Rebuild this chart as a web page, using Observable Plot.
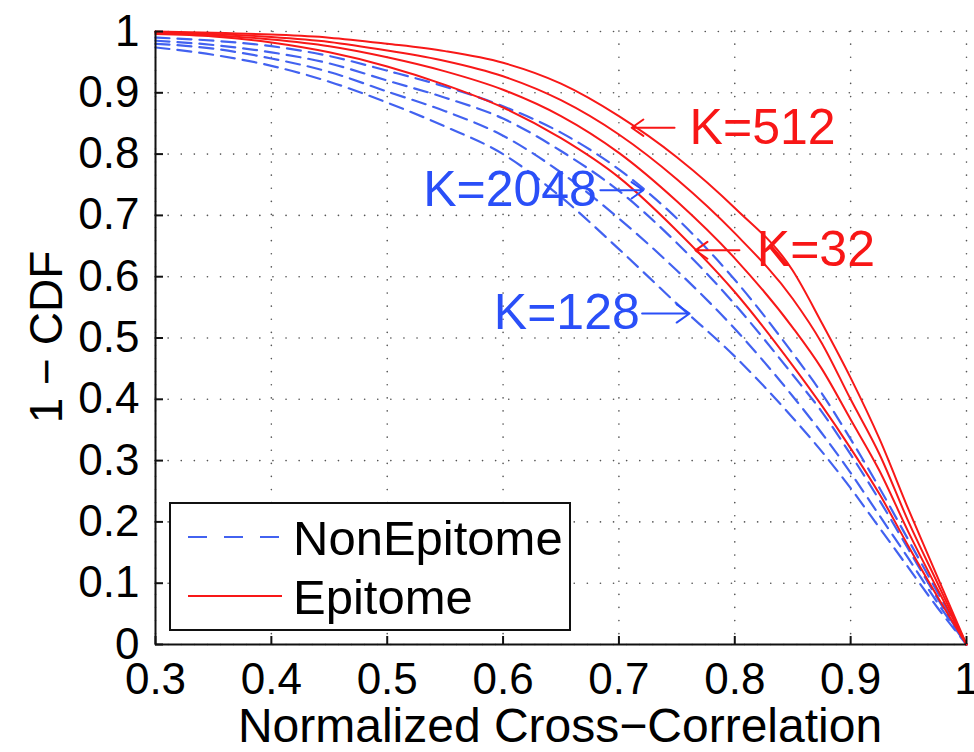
<!DOCTYPE html>
<html><head><meta charset="utf-8">
<script src="https://cdn.jsdelivr.net/npm/d3@7"></script>
<script src="https://cdn.jsdelivr.net/npm/@observablehq/plot@0.6"></script>
<style>
body{margin:0;background:#fff;}
#chart{width:974px;height:752px;}
svg{font-family:"Liberation Sans",Arial,Helvetica,sans-serif;}
</style></head><body><div id="chart"></div>
<script>
// x positions (normalized cross-correlation)
const xs = [0.3, 0.35, 0.4, 0.45, 0.5, 0.55, 0.6, 0.65, 0.7, 0.75, 0.8, 0.85, 0.875, 0.9, 0.925, 0.95, 0.975, 1.0];
// Epitome (solid red) 1-CDF values
const epiK32   = [0.996, 0.992, 0.982, 0.966, 0.943, 0.913, 0.876, 0.826, 0.762, 0.675, 0.575, 0.455, 0.39, 0.32, 0.245, 0.16, 0.078, 0];
const epiK128  = [0.998, 0.994, 0.987, 0.976, 0.958, 0.935, 0.905, 0.862, 0.802, 0.723, 0.63, 0.517, 0.45, 0.367, 0.283, 0.183, 0.09, 0];
const epiK2048 = [0.999, 0.996, 0.991, 0.983, 0.969, 0.952, 0.927, 0.888, 0.832, 0.759, 0.671, 0.564, 0.492, 0.4, 0.31, 0.2, 0.1, 0];
const epiK512  = [1.0, 0.998, 0.995, 0.99, 0.98, 0.968, 0.949, 0.915, 0.862, 0.795, 0.712, 0.61, 0.525, 0.435, 0.335, 0.22, 0.11, 0];
// NonEpitome (dashed blue) 1-CDF values
const nonK128  = [0.974, 0.962, 0.944, 0.918, 0.884, 0.845, 0.8, 0.73, 0.645, 0.556, 0.47, 0.37, 0.315, 0.255, 0.19, 0.125, 0.06, 0];
const nonK32   = [0.98, 0.972, 0.956, 0.934, 0.902, 0.87, 0.83, 0.77, 0.695, 0.61, 0.515, 0.405, 0.345, 0.28, 0.21, 0.14, 0.068, 0];
const nonK512  = [0.985, 0.978, 0.966, 0.948, 0.92, 0.892, 0.858, 0.805, 0.74, 0.655, 0.555, 0.44, 0.38, 0.31, 0.235, 0.155, 0.075, 0];
const nonK2048 = [0.99, 0.985, 0.976, 0.96, 0.936, 0.91, 0.878, 0.835, 0.775, 0.695, 0.595, 0.475, 0.41, 0.335, 0.255, 0.17, 0.085, 0];

const xTicks = [0.3, 0.4, 0.5, 0.6, 0.7, 0.8, 0.9, 1];
const yTicks = [0, 0.1, 0.2, 0.3, 0.4, 0.5, 0.6, 0.7, 0.8, 0.9, 1];
const xTickLabels = ["0.3", "0.4", "0.5", "0.6", "0.7", "0.8", "0.9", "1"];
const yTickLabels = ["0", "0.1", "0.2", "0.3", "0.4", "0.5", "0.6", "0.7", "0.8", "0.9", "1"];
const xLabel = "Normalized Cross\u2212Correlation";
const yLabel = "1 \u2212 CDF";

// annotations: label, its anchor point, and the arrow (tail -> tip) beside it
const annText    = ["K=512", "K=2048", "K=32", "K=128"];
const annGroup   = ["Epitome", "NonEpitome", "Epitome", "NonEpitome"];
const annAnchor  = ["start", "end", "start", "end"];
const annX       = [0.761, 0.681, 0.819, 0.718];
const annY       = [0.843, 0.741, 0.643, 0.54];
const arrowTailX = [0.748, 0.684, 0.804, 0.720];
const arrowTipX  = [0.711, 0.721, 0.766, 0.761];

const legendLabels = ["NonEpitome", "Epitome"];

const RED = "#f81818", BLUE = "#4262f0", BLUE_TXT = "#2a4ff8", RED_TXT = "#f81616";

const epiSeries = [["K=32", epiK32], ["K=128", epiK128], ["K=2048", epiK2048], ["K=512", epiK512]];
const nonSeries = [["K=128", nonK128], ["K=32", nonK32], ["K=512", nonK512], ["K=2048", nonK2048]];
const toRows = (list) => list.flatMap(([k, ys]) => ys.map((y, i) => ({k, x: xs[i], y})));
const epiRows = toRows(epiSeries);
const nonRows = toRows(nonSeries);
const annRows = annText.map((t, i) => ({t, x: annX[i], y: annY[i], g: annGroup[i], a: annAnchor[i],
  x1: arrowTailX[i], x2: arrowTipX[i]}));
const colorOf = d => d.g === "Epitome" ? RED_TXT : BLUE_TXT;

const grid = {stroke: "#555", strokeOpacity: 1, strokeWidth: 1.6, strokeDasharray: "0.1,13", strokeLinecap: "round"};

const plot = Plot.plot({
  width: 974, height: 752,
  marginLeft: 155, marginRight: 8, marginTop: 31, marginBottom: 108,
  style: {fontFamily: '"Liberation Sans", Arial, Helvetica, sans-serif', background: "#fff", overflow: "visible"},
  x: {domain: [0.3, 1]},
  y: {domain: [0, 1]},
  marks: [
    Plot.gridX(xTicks, grid),
    Plot.gridY(yTicks, grid),
    Plot.line(nonRows, {x: "x", y: "y", z: "k", stroke: BLUE, strokeWidth: 2.2, strokeDasharray: "14,8", curve: "monotone-x"}),
    Plot.line(epiRows, {x: "x", y: "y", z: "k", stroke: RED, strokeWidth: 2, curve: "monotone-x"}),
    Plot.ruleX([0.3], {stroke: "#111", strokeWidth: 2}),
    Plot.ruleY([0], {stroke: "#111", strokeWidth: 2}),
    Plot.axisX(xTicks, {tickSize: -8, tickPadding: 26, fontSize: 44, strokeWidth: 2, stroke: "#111", fill: "#000",
      tickFormat: (d, i) => xTickLabels[i], label: null}),
    Plot.axisY(yTicks, {tickSize: -8, tickPadding: 24, fontSize: 44, strokeWidth: 2, stroke: "#111", fill: "#000",
      tickFormat: (d, i) => yTickLabels[i], label: null}),
    Plot.arrow(annRows, {x1: "x1", x2: "x2", y1: "y", y2: "y", stroke: colorOf, strokeWidth: 2,
      headLength: 16, headAngle: 70}),
    Plot.text(annRows.filter(d => d.a === "start"), {x: "x", y: "y", text: "t", textAnchor: "start", fontSize: 50, fill: colorOf}),
    Plot.text(annRows.filter(d => d.a === "end"), {x: "x", y: "y", text: "t", textAnchor: "end", fontSize: 50, fill: colorOf})
  ]
});
document.getElementById("chart").appendChild(plot);

// axis titles & legend (layout)
const svg = d3.select(plot);
svg.append("text").attr("x", 560).attr("y", 742).attr("text-anchor", "middle")
  .attr("font-size", 48).attr("fill", "#000").text(xLabel);
svg.append("text").attr("transform", "translate(62,337) rotate(-90)").attr("text-anchor", "middle")
  .attr("font-size", 46).attr("fill", "#000").text(yLabel);

const lg = svg.append("g");
lg.append("rect").attr("x", 170).attr("y", 503).attr("width", 400).attr("height", 127)
  .attr("fill", "#fff").attr("stroke", "#111").attr("stroke-width", 2);
lg.append("line").attr("x1", 188).attr("x2", 279).attr("y1", 537).attr("y2", 537)
  .attr("stroke", BLUE).attr("stroke-width", 2).attr("stroke-dasharray", "19,17");
lg.append("line").attr("x1", 188).attr("x2", 282).attr("y1", 596).attr("y2", 596)
  .attr("stroke", RED).attr("stroke-width", 2);
lg.selectAll("text.l").data(legendLabels).join("text").attr("class", "l")
  .attr("x", 293).attr("y", (d, i) => 537 + i * 59).attr("dy", "0.36em").attr("text-anchor", "start")
  .attr("font-size", 49).attr("fill", "#000").text(d => d);
</script></body></html>
